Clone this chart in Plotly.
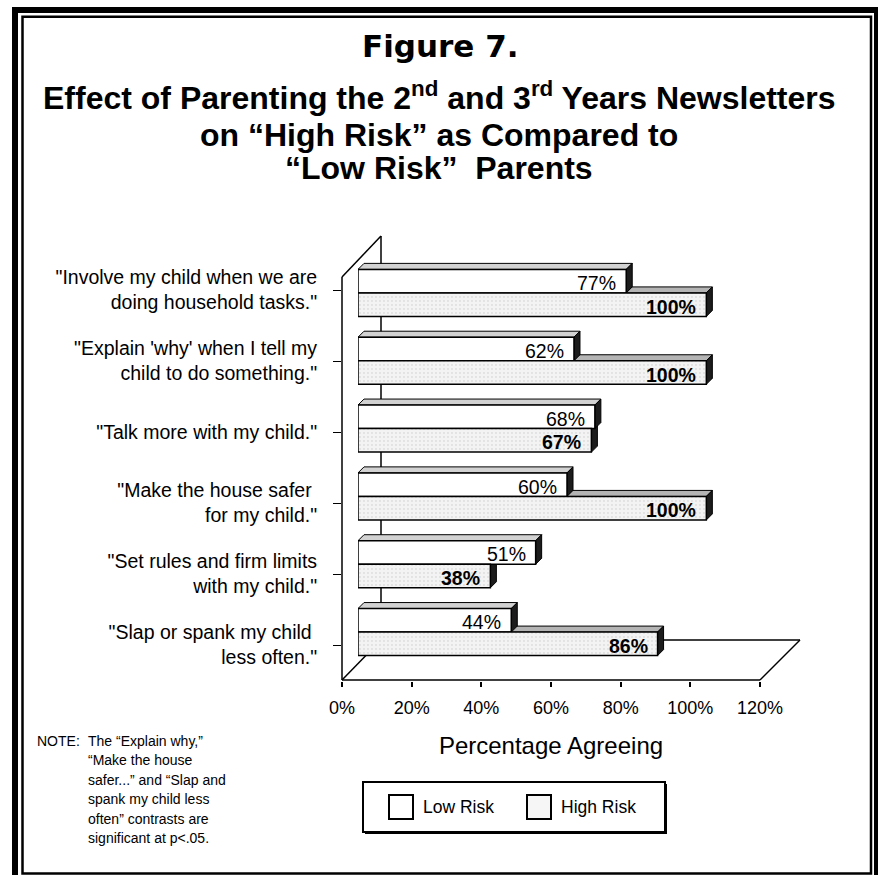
import plotly.graph_objects as go

# ---------------- data ----------------
categories = [
    '"Involve my child when we are<br>doing household tasks."',
    '"Explain \'why\' when I tell my<br>child to do something."',
    '"Talk more with my child."',
    '"Make the house safer <br>for my child."',
    '"Set rules and firm limits<br>with my child."',
    '"Slap or spank my child <br>less often."',
]
series_names = ["Low Risk", "High Risk"]
low_risk = [77, 62, 68, 60, 51, 44]
high_risk = [100, 100, 67, 100, 38, 86]
x_tick_values = [0, 20, 40, 60, 80, 100, 120]
x_tick_labels = ["0%", "20%", "40%", "60%", "80%", "100%", "120%"]
note_lines = [
    "The \u201cExplain why,\u201d",
    "\u201cMake the house",
    "safer...\u201d and \u201cSlap and",
    "spank my child less",
    "often\u201d contrasts are",
    "significant at p&lt;.05.",
]

# ---------------- geometry (pixels) ----------------
W, H = 878, 875


def px(x):
    return x / W


def py(y):
    return 1 - y / H


FONT = "Liberation Sans, Arial, sans-serif"
AX_L, AX_R = 342, 760          # front x-axis (0% .. 120%)
BAR_L, BAR_R = 358, 776        # bar plane (0% .. 120%)
BAR_TOP, BAR_BOT = 259, 666    # bar plane category span
LAB_TOP, LAB_BOT = 254.5, 680.5  # front plane category span
BACK_X, BACK_TOP, WALL_TOP = 381, 236, 277
FLOOR_FRONT, FLOOR_BACK, FLOOR_RIGHT = 680, 640, 800
BW = 0.347                      # bar thickness in category units
FACE = 6                        # 3-D face depth in px

n = len(categories)
pos = list(range(n))
ppx = (BAR_R - BAR_L) / 120.0          # px per percent
ppy = (BAR_BOT - BAR_TOP) / n          # px per category
dxd = FACE / ppx
dyd = FACE / ppy

fig = go.Figure()

fig.add_trace(go.Bar(
    orientation="h", x=low_risk, y=pos, offset=-BW, width=BW,
    xaxis="x2", yaxis="y", name=series_names[0], showlegend=False,
    marker=dict(color="white", line=dict(color="black", width=1.5)),
    hoverinfo="x+name",
))
fig.add_trace(go.Bar(
    orientation="h", x=high_risk, y=pos, offset=0, width=BW,
    xaxis="x2", yaxis="y", name=series_names[1], showlegend=False,
    marker=dict(color="#efefef", line=dict(color="black", width=1.5),
                pattern=dict(shape=".", fgcolor="#a0a0a0", bgcolor="#f3f3f3",
                             size=4, solidity=0.1)),
    hoverinfo="x+name",
))
# invisible carrier trace so the front-plane axes (category labels, % ticks) are drawn
fig.add_trace(go.Scatter(
    x=high_risk, y=pos, xaxis="x", yaxis="y2", mode="markers",
    marker=dict(opacity=0, size=1), hoverinfo="skip", showlegend=False,
))

shapes = []
# 3-D faces of bars (computed from the data values)
for vals, off, topcol in ((high_risk, 0.0, "#b4b4b4"), (low_risk, -BW, "#d2d2d2")):
    for i, v in enumerate(vals):
        top = i + off
        bot = top + BW
        shapes.append(dict(
            type="path", xref="x2", yref="y", layer="below",
            path=f"M0,{top} L{dxd},{top - dyd} L{v + dxd},{top - dyd} L{v},{top} Z",
            fillcolor=topcol, line=dict(color="black", width=1)))
        shapes.append(dict(
            type="path", xref="x2", yref="y", layer="below",
            path=f"M{v},{top} L{v + dxd},{top - dyd} L{v + dxd},{bot - dyd} L{v},{bot} Z",
            fillcolor="#1c1c1c", line=dict(color="black", width=1)))


def seg(x0, y0, x1, y1, w=1.5):
    return dict(type="line", xref="paper", yref="paper", layer="below",
                x0=px(x0), y0=py(y0), x1=px(x1), y1=py(y1),
                line=dict(color="black", width=w))


# back wall and floor
shapes += [
    seg(BACK_X, BACK_TOP, BACK_X, FLOOR_BACK),
    seg(AX_L, WALL_TOP, BACK_X, BACK_TOP),
    seg(AX_L, WALL_TOP, AX_L, FLOOR_FRONT),
    seg(AX_L, FLOOR_FRONT, AX_R, FLOOR_FRONT),
    seg(AX_R, FLOOR_FRONT, FLOOR_RIGHT, FLOOR_BACK),
    seg(BACK_X, FLOOR_BACK, FLOOR_RIGHT, FLOOR_BACK),
    seg(AX_L, FLOOR_FRONT, BACK_X, FLOOR_BACK),
]

# page frame
shapes.append(dict(type="rect", xref="paper", yref="paper", layer="above",
                   x0=px(15), y0=py(10), x1=px(877), y1=py(884),
                   line=dict(color="black", width=6)))
shapes.append(dict(type="rect", xref="paper", yref="paper", layer="above",
                   x0=px(22.5), y0=py(16.8), x1=px(871), y1=py(873.5),
                   line=dict(color="black", width=2.5)))

# legend box
LG_L, LG_R, LG_T, LG_B = 363, 665, 782, 832
shapes.append(dict(type="rect", xref="paper", yref="paper",
                   x0=px(LG_L + 2), y0=py(LG_T + 2), x1=px(LG_R + 2), y1=py(LG_B + 2),
                   fillcolor="black", line=dict(width=0)))
shapes.append(dict(type="rect", xref="paper", yref="paper",
                   x0=px(LG_L), y0=py(LG_T), x1=px(LG_R), y1=py(LG_B),
                   fillcolor="white", line=dict(color="black", width=2)))
legend_items = [(389, "white"), (527, "#f6f6f6")]
annotations = []
for (sx, col), name in zip(legend_items, series_names):
    shapes.append(dict(type="rect", xref="paper", yref="paper",
                       x0=px(sx), y0=py(795), x1=px(sx + 24), y1=py(819),
                       fillcolor=col, line=dict(color="black", width=2)))
    annotations.append(dict(xref="paper", yref="paper", x=px(sx + 32), y=py(807),
                            text=name, showarrow=False, xanchor="left", yanchor="middle",
                            font=dict(family=FONT, size=17.5, color="black")))

# value labels
for vals, off, bold in ((low_risk, -BW / 2, False), (high_risk, BW / 2, True)):
    for i, v in enumerate(vals):
        t = f"{v}%"
        annotations.append(dict(
            xref="x2", yref="y", x=v, y=i + off, showarrow=False,
            text=f"<b>{t}</b>" if bold else t, xanchor="right", yanchor="middle",
            xshift=-8, yshift=-2,
            font=dict(family=FONT, size=19.5, color="black")))

# titles
annotations.append(dict(xref="paper", yref="paper", x=px(440), y=py(46),
                        text="<b>Figure 7.</b>", showarrow=False, yanchor="middle",
                        font=dict(family="DejaVu Sans", size=31, color="black")))
sub_lines = [
    "<b>Effect of Parenting the 2<sup>nd</sup> and 3<sup>rd</sup> Years Newsletters</b>",
    "<b>on \u201cHigh Risk\u201d as Compared to</b>",
    "<b>\u201cLow Risk\u201d  Parents</b>",
]
sub_y = [96, 135, 168]
for line, yy in zip(sub_lines, sub_y):
    annotations.append(dict(xref="paper", yref="paper", x=px(439), y=py(yy),
                            text=line, showarrow=False, yanchor="middle",
                            font=dict(family=FONT, size=32, color="black")))

# note
NOTE_Y0, NOTE_DY = 741, 19.4
annotations.append(dict(xref="paper", yref="paper", x=px(35), y=py(NOTE_Y0),
                        text="NOTE:", showarrow=False, xanchor="left", yanchor="middle",
                        font=dict(family=FONT, size=14, color="black")))
for k, line in enumerate(note_lines):
    annotations.append(dict(xref="paper", yref="paper", x=px(86), y=py(NOTE_Y0 + NOTE_DY * k),
                            text=line, showarrow=False, xanchor="left", yanchor="middle",
                            font=dict(family=FONT, size=14, color="black")))

fig.update_layout(
    width=W, height=H, autosize=False,
    margin=dict(l=0, r=0, t=0, b=0, pad=0),
    paper_bgcolor="white", plot_bgcolor="rgba(0,0,0,0)",
    barmode="overlay", showlegend=False,
    xaxis=dict(domain=[px(AX_L), px(AX_R)], range=[0, 120], anchor="y2",
               tickmode="array", tickvals=x_tick_values, ticktext=x_tick_labels,
               ticks="outside", ticklen=5, tickwidth=1.5, tickcolor="black",
               showgrid=False, zeroline=False, showline=False, automargin=False,
               ticklabelstandoff=6,
               tickfont=dict(family=FONT, size=18, color="black"),
               title=dict(text="Percentage Agreeing", standoff=20,
                          font=dict(family=FONT, size=24, color="black"))),
    yaxis2=dict(domain=[py(LAB_BOT), py(LAB_TOP)], range=[n - 0.5, -0.5], anchor="x",
                tickmode="array", tickvals=pos, ticktext=categories,
                ticks="outside", ticklen=8, tickwidth=1.2, tickcolor="black",
                showgrid=False, zeroline=False, showline=False, automargin=False,
                ticklabelstandoff=12,
                tickfont=dict(family=FONT, size=19.5, color="black")),
    xaxis2=dict(domain=[px(BAR_L), px(BAR_R)], range=[0, 120], anchor="y",
                visible=False),
    yaxis=dict(domain=[py(BAR_BOT), py(BAR_TOP)], range=[n - 0.5, -0.5], anchor="x2",
               visible=False),
    shapes=shapes,
    annotations=annotations,
)

fig.write_html("out.html")
